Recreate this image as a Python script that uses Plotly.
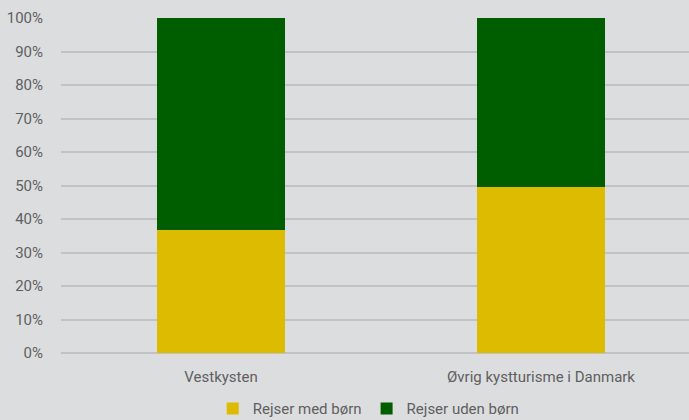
import plotly.graph_objects as go

categories = ["Vestkysten", "Øvrig kystturisme i Danmark"]
med_born = [0.366, 0.497]
uden_born = [0.634, 0.503]

FONT = "Roboto"
GRAY = "#5f5f5f"

fig = go.Figure()
fig.add_trace(go.Bar(x=categories, y=med_born, name="Rejser med børn",
                     marker=dict(color="#DDBB00", line=dict(width=0)), width=0.4))
fig.add_trace(go.Bar(x=categories, y=uden_born, name="Rejser uden børn",
                     marker=dict(color="#005E00", line=dict(width=0)), width=0.4))

fig.update_layout(
    barmode="stack",
    width=689, height=420,
    margin=dict(l=61, r=0, t=18, b=67),
    paper_bgcolor="#DCDDDF", plot_bgcolor="#DCDDDF",
    font=dict(family=FONT, size=14, color=GRAY),
    legend=dict(orientation="h", x=0.49, xanchor="center", xref="paper",
                y=0.027, yanchor="middle", yref="container",
                font=dict(size=15, color=GRAY), itemwidth=30, traceorder="normal",
                bgcolor="rgba(0,0,0,0)", tracegroupgap=0),
    xaxis=dict(range=[-0.5, 1.4625], showgrid=False, showline=False, ticks="",
               ticklabelstandoff=13, tickfont=dict(size=15, color=GRAY)),
    yaxis=dict(range=[0, 1], tickformat=".0%", dtick=0.1, showgrid=True,
               gridcolor="#C2C2C4", gridwidth=2, zeroline=True, zerolinecolor="#C2C2C4",
               zerolinewidth=2, ticks="", ticklabelstandoff=17,
               tickfont=dict(size=15, color=GRAY)),
)

fig.write_html("out.html", config={"displayModeBar": False},
               post_script="document.body.style.margin='0';document.body.style.overflow='hidden';")
